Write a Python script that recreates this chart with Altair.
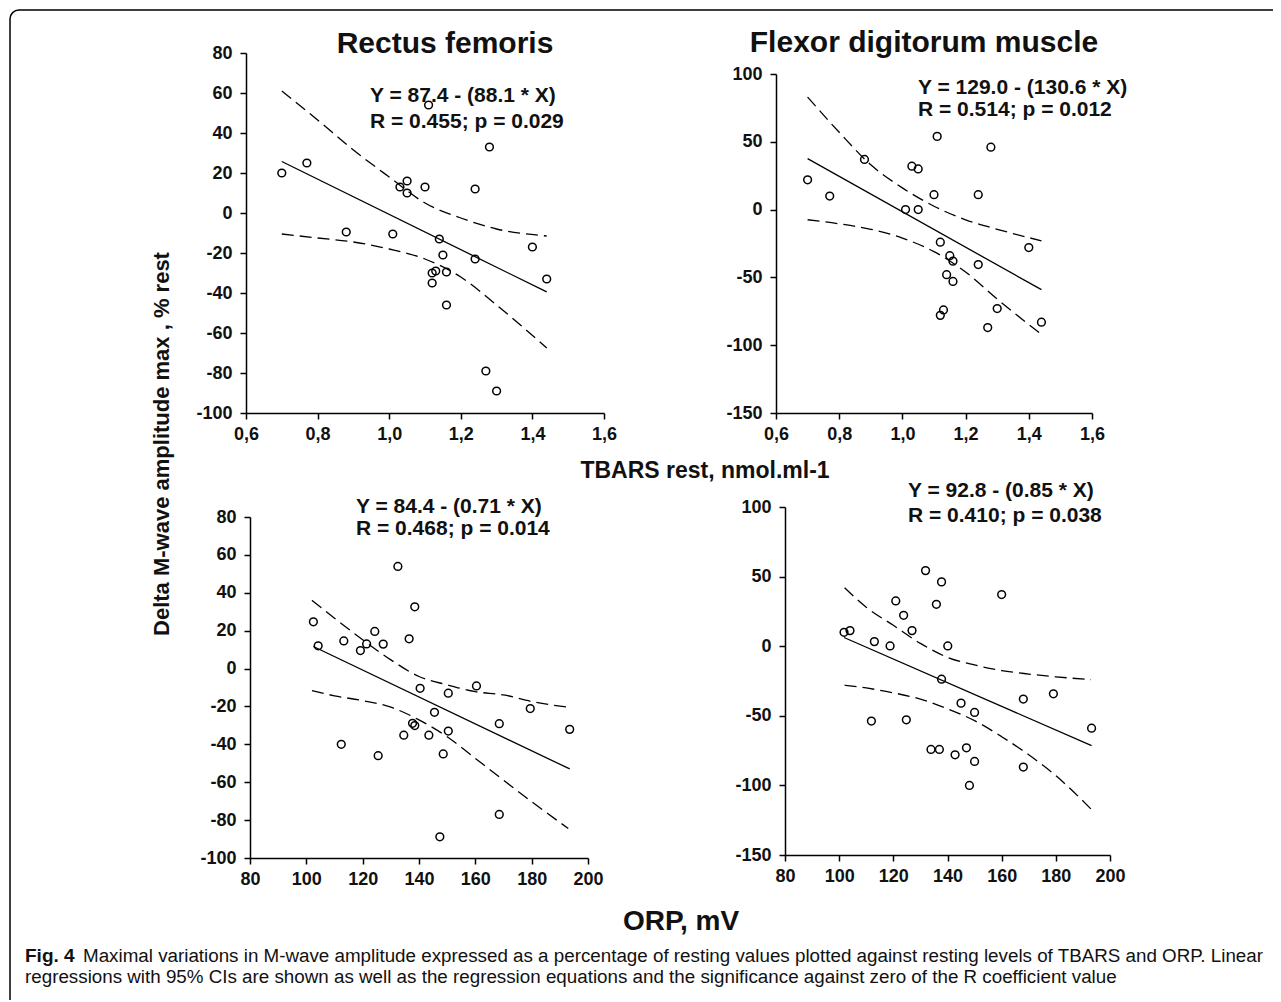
import altair as alt
import pandas as pd

W, H = 1263, 990

# ---------------- data ----------------
# Rectus femoris vs TBARS
rf_tbars_x = [0.70, 0.77, 0.88, 1.01, 1.03, 1.05, 1.05, 1.10, 1.11, 1.14, 1.15, 1.12,
              1.13, 1.16, 1.12, 1.16, 1.24, 1.24, 1.28, 1.27, 1.30, 1.40, 1.44]
rf_tbars_y = [20, 25, -9.5, -10.5, 13, 16, 10, 13, 54, -13, -21, -30,
              -29, -29.5, -35, -46, 12, -23, 33, -79, -89, -17, -33]
# Flexor digitorum vs TBARS
fd_tbars_x = [0.70, 0.77, 0.88, 1.01, 1.03, 1.05, 1.05, 1.10, 1.11, 1.12, 1.15, 1.16,
              1.14, 1.16, 1.12, 1.13, 1.24, 1.24, 1.28, 1.27, 1.30, 1.40, 1.44]
fd_tbars_y = [22, 10, 37, 0, 32, 30, 0, 11, 54, -24, -34, -38,
              -48, -53, -78, -74, 11, -40.5, 46, -87, -73, -28, -83]
# Rectus femoris vs ORP
rf_orp_x = [102.5, 104.2, 113.3, 112.4, 119.2, 121.4, 124.3, 127.3, 125.5, 132.5, 136.5,
            138.5, 134.6, 137.7, 138.5, 140.4, 143.5, 145.5, 148.6, 147.4, 150.4, 150.4,
            160.4, 168.5, 168.5, 179.5, 193.5]
rf_orp_y = [24.7, 12, 14.6, -40, 9.5, 13, 19.6, 12.9, -46, 53.9, 15.7,
            32.6, -35.2, -28.9, -30.1, -10.4, -35.2, -23.1, -45.1, -88.8, -13, -33,
            -9.2, -29.1, -77, -21.1, -32.1]
# Flexor digitorum vs ORP
fd_orp_x = [101.8, 104, 113, 111.9, 118.8, 120.9, 123.8, 126.9, 124.8, 131.9, 135.9,
            137.8, 140.1, 137.8, 133.9, 137, 142.8, 145, 147, 150, 150, 148.1,
            160, 168, 168, 179.1, 193.2]
fd_orp_y = [10, 11.2, 3.3, -53.8, 0.2, 32.5, 22.2, 11.2, -52.9, 54.3, 30.1,
            46.2, 0.2, -23.7, -74.2, -74.2, -78, -40.9, -73, -47.6, -82.8, -100,
            37.1, -38, -86.8, -34.2, -58.9]

# printed regression equations (intercept, slope)
rf_tbars_fit = (87.4, -88.1)
fd_tbars_fit = (129.0, -130.6)
rf_orp_fit = (84.4, -0.71)
fd_orp_fit = (92.8, -0.85)

# 95% CI curves
tbars_ci_x = [0.70, 0.80, 0.90, 1.00, 1.10, 1.20, 1.30, 1.44]
rf_tbars_ci_up = [61, 46.5, 31.5, 18, 5, -2.5, -8, -11.5]
rf_tbars_ci_lo = [-10.5, -12.5, -14.5, -18, -23, -32, -46, -67.5]
fd_tbars_ci_up = [83, 57, 33, 16, 2.5, -7.5, -14.5, -23]
fd_tbars_ci_lo = [-7.5, -10.5, -14.5, -21, -31, -46, -66, -92]
orp_ci_x = [102, 110, 120, 130, 140, 150, 160, 170, 180, 193]
rf_orp_ci_up = [36, 26.6, 15.2, 4.6, -4.2, -8.6, -12.2, -13.9, -17.4, -20.4]
rf_orp_ci_lo = [-11.6, -14.4, -16.9, -20.4, -27.1, -36, -47.4, -58.9, -70.3, -84.4]
fd_orp_ci_up = [42, 28, 15, 2, -8, -13.5, -17.5, -20, -22, -24]
fd_orp_ci_lo = [-28, -30, -33.5, -38, -45, -53.5, -65, -78, -93, -117]

tbars_ticks = [0.6, 0.8, 1.0, 1.2, 1.4, 1.6]
orp_ticks = [80, 100, 120, 140, 160, 180, 200]
y_ticks_a = [-100, -80, -60, -40, -20, 0, 20, 40, 60, 80]
y_ticks_b = [-150, -100, -50, 0, 50, 100]

BOLD = "Liberation Sans"


def panel(px, py, cx, cu, cl, fit, xdom, ydom, xr, yr, xt, yt, xfmt):
    pts = pd.DataFrame({"x": px, "y": py})
    xs = [min(px), max(px)]
    reg = pd.DataFrame({"x": xs, "y": [fit[0] + fit[1] * v for v in xs]})
    ci = pd.DataFrame({"x": list(cx) * 2, "y": list(cu) + list(cl),
                       "band": ["upper"] * len(cx) + ["lower"] * len(cx)})
    X = alt.X("x:Q",
              scale=alt.Scale(domain=xdom, range=xr, nice=False, zero=False),
              axis=alt.Axis(orient="bottom", offset=yr[0] - H, values=xt,
                            labelExpr=xfmt, title=None, grid=False,
                            labelFlush=False, labelOverlap=False, labelPadding=6))
    Y = alt.Y("y:Q",
              scale=alt.Scale(domain=ydom, range=yr, nice=False, zero=False),
              axis=alt.Axis(orient="left", offset=-xr[0], values=yt,
                            labelExpr="'' + datum.value", title=None, grid=False,
                            labelFlush=False, labelOverlap=False, labelPadding=8))
    p = alt.Chart(pts).mark_point(shape="circle", filled=False, size=60, color="black",
                                  strokeWidth=1.5, opacity=1).encode(x=X, y=Y)
    r = alt.Chart(reg).mark_line(color="black", strokeWidth=1.3).encode(x=X, y=Y)
    c = alt.Chart(ci).mark_line(color="black", strokeWidth=1.3, strokeDash=[12, 6],
                                interpolate="monotone").encode(x=X, y=Y, detail="band:N")
    return alt.layer(p, r, c)


comma = "replace(format(datum.value, '.1f'), '.', ',')"
plain = "'' + datum.value"

p1 = panel(rf_tbars_x, rf_tbars_y, tbars_ci_x, rf_tbars_ci_up, rf_tbars_ci_lo, rf_tbars_fit,
           [0.6, 1.6], [-100, 80], [236, 594], [403, 43], tbars_ticks, y_ticks_a, comma)
p2 = panel(fd_tbars_x, fd_tbars_y, tbars_ci_x, fd_tbars_ci_up, fd_tbars_ci_lo, fd_tbars_fit,
           [0.6, 1.6], [-150, 100], [766, 1082], [403, 64], tbars_ticks, y_ticks_b, comma)
p3 = panel(rf_orp_x, rf_orp_y, orp_ci_x, rf_orp_ci_up, rf_orp_ci_lo, rf_orp_fit,
           [80, 200], [-100, 80], [240, 578], [848, 507], orp_ticks, y_ticks_a, plain)
p4 = panel(fd_orp_x, fd_orp_y, orp_ci_x, fd_orp_ci_up, fd_orp_ci_lo, fd_orp_fit,
           [80, 200], [-150, 100], [775, 1100], [845, 497], orp_ticks, y_ticks_b, plain)

one = pd.DataFrame({"k": [0]})


def label(text, x, y, size, weight="bold", align="center", angle=0, font=BOLD):
    kw = dict(fontSize=size, fontWeight=weight, align=align, font=font,
              color="#111", baseline="alphabetic")
    if angle:
        kw["angle"] = angle
        kw["baseline"] = "middle"
    return alt.Chart(one).mark_text(**kw).encode(
        x=alt.value(x), y=alt.value(y), text=alt.value(text))


frame = alt.Chart(one).mark_rect(fill="transparent", stroke="black", strokeWidth=1.5,
                                 cornerRadius=9).encode(
    x=alt.value(0), x2=alt.value(1320), y=alt.value(0), y2=alt.value(1020))

texts = [
    label("Rectus femoris", 435, 43, 30),
    label("Flexor digitorum muscle", 914, 42, 30),
    label("Y = 87.4 - (88.1 * X)", 360, 92, 21, align="left"),
    label("R = 0.455; p = 0.029", 360, 118, 21, align="left"),
    label("Y = 129.0 - (130.6 * X)", 908, 84, 21, align="left"),
    label("R = 0.514; p = 0.012", 908, 106, 21, align="left"),
    label("Y = 84.4 - (0.71 * X)", 346, 503, 21, align="left"),
    label("R = 0.468; p = 0.014", 346, 525, 21, align="left"),
    label("Y = 92.8 - (0.85 * X)", 898, 487, 21, align="left"),
    label("R = 0.410; p = 0.038", 898, 512, 21, align="left"),
    label("TBARS rest, nmol.ml-1", 695, 468, 23),
    label("ORP, mV", 671, 920, 28),
    label("Delta M-wave amplitude max , % rest", 152, 434, 22, angle=270),
    label("Fig. 4", 15, 952, 19, align="left"),
    label("Maximal variations in M-wave amplitude expressed as a percentage of resting values "
          "plotted against resting levels of TBARS and ORP. Linear",
          73, 952, 18.8, weight="normal", align="left"),
    label("regressions with 95% CIs are shown as well as the regression equations and the "
          "significance against zero of the R coefficient value",
          15, 973, 18.8, weight="normal", align="left"),
]

chart = alt.layer(frame, p1, p2, p3, p4, *texts).resolve_scale(
    x="independent", y="independent"
).properties(
    width=W, height=H,
    padding={"left": 2, "top": 2, "right": 0, "bottom": 0},
    autosize=alt.AutoSizeParams(type="none"),
).configure_view(strokeWidth=0).configure_axis(
    domainColor="black", domainWidth=1.5, tickColor="black", tickWidth=1.5, tickSize=6,
    labelFont=BOLD, labelFontWeight="bold", labelFontSize=18, labelColor="#111",
)

chart.save("out.html", embed_options={"renderer": "svg", "actions": False})
